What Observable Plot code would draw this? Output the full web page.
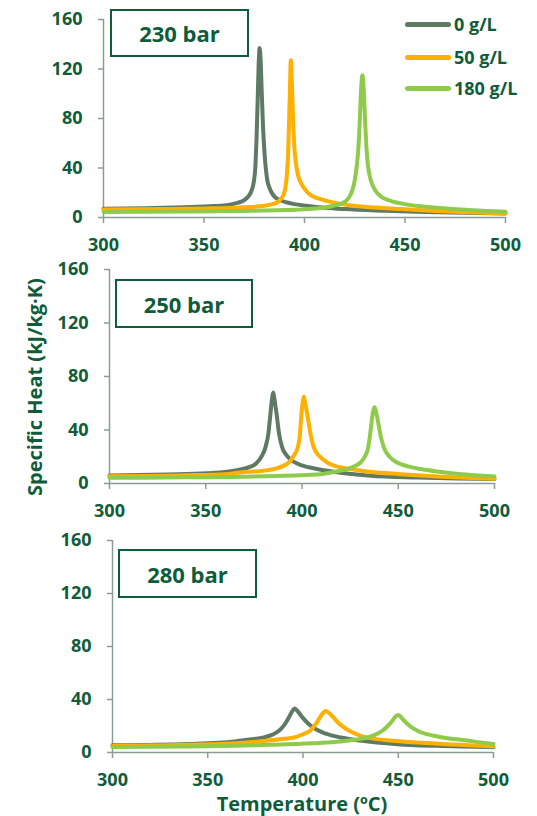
<!DOCTYPE html>
<html>
<head>
<meta charset="utf-8">
<script src="https://cdn.jsdelivr.net/npm/d3@7"></script>
<script src="https://cdn.jsdelivr.net/npm/@observablehq/plot@0.6"></script>
<style>
  body { margin: 0; background: #fff; }
  #chart { position: relative; width: 537px; height: 816px; font-family: "Open Sans", sans-serif; font-weight: 700; color: #0f5c3a; }
  #chart svg { position: absolute; left: 0; }
  .box { position: absolute; border: 2px solid #0f5c3a; box-sizing: border-box; display: flex; align-items: center; justify-content: center; font-size: 22px; }
  .legend-line { position: absolute; height: 5px; border-radius: 3px; }
  .legend-text { position: absolute; font-size: 18px; line-height: 26px; white-space: nowrap; }
  .ytitle { position: absolute; width: 300px; height: 26px; line-height: 26px; text-align: center; font-size: 20px; transform: rotate(-90deg); white-space: nowrap; }
  .xtitle { position: absolute; width: 300px; line-height: 20px; text-align: center; font-size: 20px; white-space: nowrap; }
</style>
</head>
<body>
<div id="chart"></div>
<script>
// Specific heat of water with dissolved salt, three pressures, three concentrations
const pressures = ["230 bar", "250 bar", "280 bar"];
const concentrations = ["0 g/L", "50 g/L", "180 g/L"];
const xTicks = [300, 350, 400, 450, 500];
const yTicks = [0, 40, 80, 120, 160];

// 230 bar
const t230_0 = [300, 320, 340, 355, 360, 364, 367, 370, 372, 373.5, 374.8, 375.6, 376.1, 376.7, 377.2, 377.7, 378.2, 378.8, 379.4, 380.2, 381.4, 382.8, 385, 388, 391.4, 395, 401, 410, 420, 440, 460, 480, 500];
const cp230_0 = [7.0, 7.5, 8.3, 9.2, 9.7, 10.7, 12, 14, 17, 21, 29, 42, 62, 95, 124, 137, 126, 98, 72, 50, 31, 23, 17, 14, 12.1, 10.8, 9.5, 7.9, 6.8, 5.5, 4.5, 3.8, 3.3];
const t230_50 = [300, 330, 355, 370, 380, 384, 386.4, 388.2, 389.7, 390.6, 391.3, 391.8, 392.2, 392.7, 393.2, 393.7, 394.3, 394.9, 395.7, 396.8, 398.2, 399.7, 402, 405, 408, 412, 418, 424.5, 435, 447.8, 465, 485, 500];
const cp230_50 = [6.5, 6.8, 7.4, 8.2, 9.5, 10.8, 12.1, 15, 19, 25, 36, 50, 70, 100, 127, 110, 80, 58, 44, 34, 28, 24, 19.5, 16.5, 14.9, 13, 11, 9.5, 8.0, 6.8, 5.3, 4.0, 3.2];
const t230_180 = [300, 340, 370, 390, 400, 408, 414, 419.6, 422, 423.7, 425, 426.1, 426.8, 427.4, 428, 428.8, 429.6, 430.2, 430.8, 431.5, 432.5, 433.8, 435.3, 438.5, 442.8, 450, 464.3, 480, 500];
const cp230_180 = [4.5, 4.8, 5.3, 6.0, 6.7, 7.6, 9.3, 12.1, 16, 21.6, 30, 43, 56, 74, 98, 115, 99, 76, 57, 43, 33, 26.5, 21.6, 16.5, 13.5, 10.8, 8.1, 6.2, 4.6];

// 250 bar
const t250_0 = [300, 330, 350, 362, 368, 373, 375.8, 379.3, 381, 382.6, 383.6, 384.4, 385, 385.6, 386.3, 386.8, 388, 389.7, 392, 394.9, 400, 407.9, 420, 435.6, 460, 480, 500];
const cp250_0 = [6.0, 6.8, 7.6, 9, 10.5, 12.5, 14.5, 21, 27, 38, 52, 63, 68, 64, 57, 52, 38, 27, 21, 17, 13.5, 10.8, 8.0, 5.8, 4.5, 3.8, 3.4];
const t250_50 = [300, 340, 360, 368, 380, 385.4, 390, 394, 396.2, 397.8, 398.9, 399.7, 400.3, 400.9, 401.5, 402.7, 404.3, 406.1, 409, 413.1, 418, 425.2, 435, 451.2, 470, 485, 500];
const cp250_50 = [5.5, 6.2, 7.0, 8.3, 9.6, 10.8, 13, 17, 22, 27, 36, 52, 60, 65, 61, 52, 38, 27, 20.5, 15.7, 12.8, 10.8, 8.8, 7.0, 5.3, 4.3, 3.5];
const t250_180 = [300, 340, 374.8, 395, 409.6, 417, 423.5, 427.5, 430.4, 432.6, 434.4, 435.5, 436.5, 437.1, 437.7, 438.4, 439.4, 440.8, 442.5, 445.5, 449.4, 455, 461.6, 470, 478.9, 490, 500];
const cp250_180 = [4.3, 4.6, 5.2, 6.0, 7.0, 8.8, 10.8, 13, 15.7, 20, 27, 38, 50, 55, 57, 54, 47, 36, 27, 20, 15.7, 12.8, 10.8, 9, 7.5, 6.2, 5.2];

// 280 bar
const t280_0 = [300, 340, 364, 372, 379.5, 384, 387.4, 390, 392.6, 394.3, 395.6, 397, 399.7, 403, 406.6, 412, 419.8, 430, 449.6, 470, 500];
const cp280_0 = [5.5, 6.5, 8.3, 9.8, 11.3, 13.5, 16.4, 20.5, 26.5, 31, 33.3, 31.5, 26.5, 21.5, 17.7, 14.2, 11.3, 9, 6.3, 5, 4];
const t280_50 = [300, 340, 365, 381, 390, 395.3, 400, 403.7, 406.5, 408.9, 410.5, 411.9, 413.5, 415.9, 418.5, 421.5, 425.5, 430.3, 438, 447.8, 462, 479.3, 500];
const cp280_50 = [5.0, 5.8, 7.0, 8.8, 10.3, 11.3, 13.8, 16.4, 21, 26.5, 29.8, 31.3, 30, 26.5, 22.5, 18.9, 15.4, 12.6, 10.3, 8.8, 7.3, 6.0, 4.6];
const t280_180 = [300, 340, 383, 405, 419.8, 428, 433.8, 438, 441.7, 444.5, 446.9, 448.5, 449.9, 451.3, 453, 456.5, 460.1, 464, 468.8, 475, 482, 490, 500];
const cp280_180 = [4.2, 4.5, 5.8, 7.0, 8.3, 9.8, 11.3, 13.5, 16.4, 20, 24, 27, 28.3, 27, 24, 19.5, 16.4, 14.2, 12.6, 11, 9.8, 8.2, 6.5];

const seriesColors = ["#5e7a65", "#ffb000", "#8fcb4b"];
const textGreen = "#0f5c3a";
const axisGray = "#8c9c90";

const panelData = [
  [[t230_0, cp230_0], [t230_50, cp230_50], [t230_180, cp230_180]],
  [[t250_0, cp250_0], [t250_50, cp250_50], [t250_180, cp250_180]],
  [[t280_0, cp280_0], [t280_50, cp280_50], [t280_180, cp280_180]]
];

// frame of each panel and of its pressure box
const layout = [
  {top: 0,   height: 257, left: 103, right: 32, box: {left: 110, top: 9,   w: 139, h: 48}},
  {top: 250, height: 273, left: 109, right: 43, box: {left: 115, top: 279, w: 138, h: 49}},
  {top: 521, height: 271, left: 112, right: 44, box: {left: 118, top: 549, w: 139, h: 49}}
];

const root = d3.select("#chart");

panelData.forEach((series, i) => {
  const L = layout[i];
  const rows = series.flatMap(([ts, cps], k) =>
    ts.map((t, j) => ({t, cp: cps[j], conc: concentrations[k]})));

  const svg = Plot.plot({
    width: 537,
    height: L.height,
    marginLeft: L.left,
    marginRight: L.right,
    marginTop: 19,
    marginBottom: 40,
    style: {background: "transparent", fontFamily: "'Open Sans', sans-serif", overflow: "visible"},
    x: {domain: [300, 500]},
    y: {domain: [0, 160]},
    color: {domain: concentrations, range: seriesColors},
    marks: [
      Plot.ruleY([0], {stroke: axisGray, strokeWidth: 1.5}),
      Plot.ruleX([300], {stroke: axisGray, strokeWidth: 1.5}),
      Plot.axisY({ticks: yTicks, tickSize: 5, tickPadding: 16, stroke: axisGray, strokeWidth: 1.5,
        fill: textGreen, fontSize: 18, fontWeight: "bold", label: null}),
      Plot.axisX({ticks: xTicks, tickSize: 6, tickPadding: 15, stroke: axisGray, strokeWidth: 1.5,
        fill: textGreen, fontSize: 18, fontWeight: "bold", label: null}),
      Plot.line(rows, {x: "t", y: "cp", z: "conc", stroke: "conc", strokeWidth: 4,
        curve: "monotone-x", strokeLinecap: "round", strokeLinejoin: "round"})
    ]
  });
  svg.style.top = L.top + "px";
  root.node().appendChild(svg);

  root.append("div")
    .attr("class", "box")
    .style("left", L.box.left + "px")
    .style("top", L.box.top + "px")
    .style("width", L.box.w + "px")
    .style("height", L.box.h + "px")
    .text(pressures[i]);
});

// legend in the first panel
const legendY = [24, 57, 88];
concentrations.forEach((c, k) => {
  root.append("div")
    .attr("class", "legend-line")
    .style("left", "405px")
    .style("width", "46px")
    .style("top", (legendY[k] - 2.5) + "px")
    .style("background", seriesColors[k]);
  root.append("div")
    .attr("class", "legend-text")
    .style("left", "454px")
    .style("top", (legendY[k] - 13) + "px")
    .text(c);
});

// axis titles
root.append("div")
  .attr("class", "ytitle")
  .style("left", (35 - 150) + "px")
  .style("top", (387 - 13) + "px")
  .text("Specific Heat (kJ/kg·K)");
root.append("div")
  .attr("class", "xtitle")
  .style("left", (302 - 150) + "px")
  .style("top", (804 - 10) + "px")
  .text("Temperature (ºC)");
</script>
</body>
</html>
